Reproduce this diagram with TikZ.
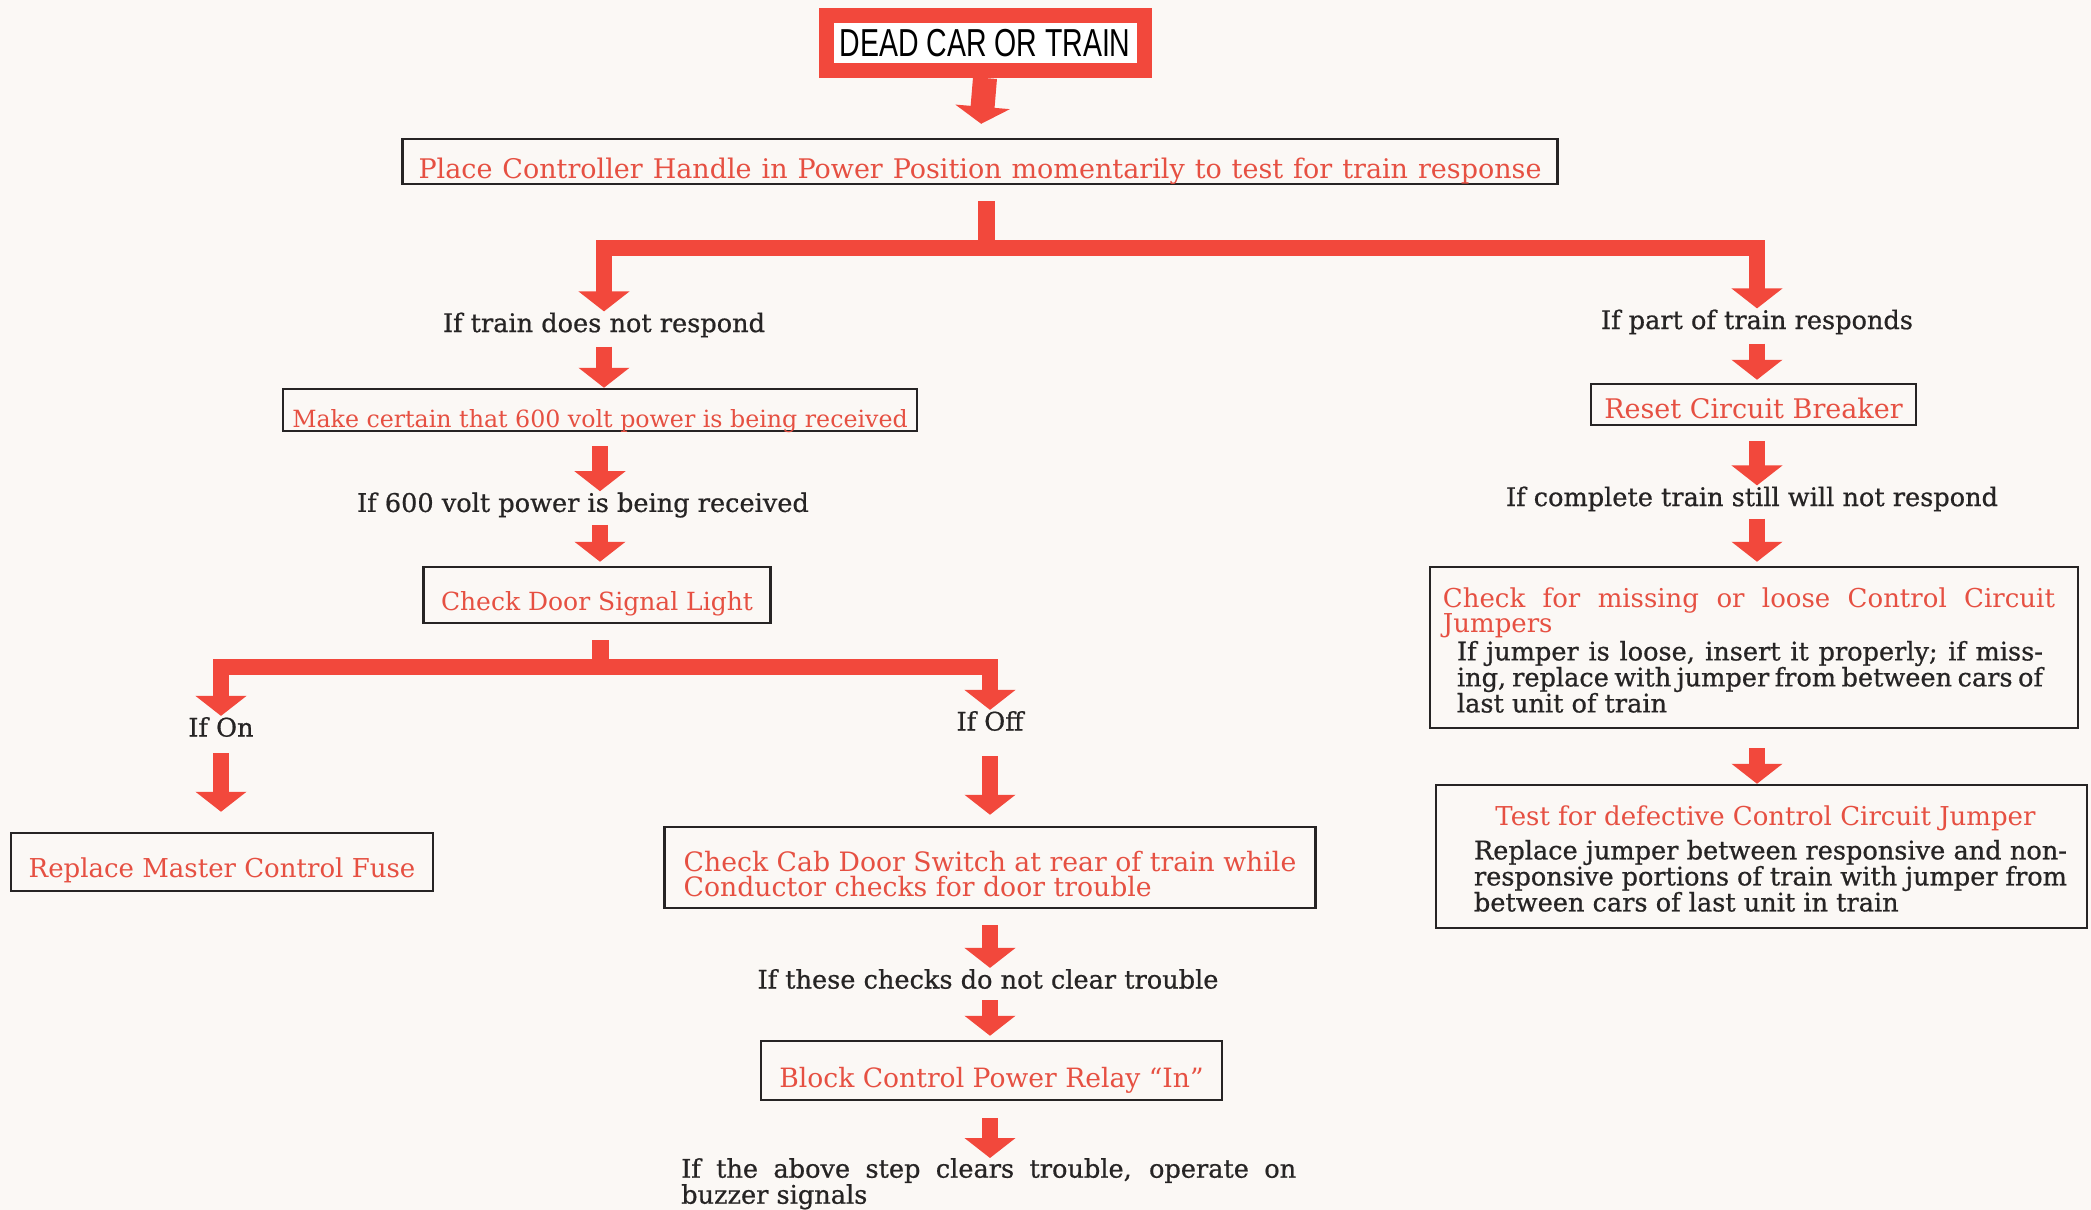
\documentclass[tikz,border=0pt]{standalone}
\usepackage{fontspec}
\setmainfont{DejaVu Serif}
\newfontfamily\notefont{DejaVu Serif}[FakeBold=0.7]
\newfontfamily\titlefont{Liberation Sans}[FakeStretch=0.73]
\usetikzlibrary{arrows.meta}
\definecolor{arrowred}{RGB}{242,72,60}
\definecolor{textred}{RGB}{230,80,66}
\definecolor{ink}{RGB}{38,36,36}
\definecolor{paper}{RGB}{251,248,245}
\newcommand\redsize{\fontsize{26}{25}\selectfont}
\newcommand\notesize{\notefont\fontsize{25.6}{26}\selectfont}

\begin{document}
\begin{tikzpicture}[x=1pt,y=-1pt]

		\tikzset{box/.style = {draw=ink, line width=2.5pt, inner sep=0pt, text=textred, font=\redsize}}
		\tikzset{low/.style = {text height=#1, text depth=0pt}}
		\tikzset{note/.style = {text=ink, font=\notesize, inner sep=1pt}}
		\tikzset{flow/.style = {arrowred, line width=16pt, -{Triangle[width=50pt,length=20pt]}}}
		\tikzset{bar/.style = {arrowred, line width=17pt}}
		\fill[paper] (0,0) rectangle (2091,1210);
		\useasboundingbox (0,0) rectangle (2091,1210);
		\node[draw=arrowred, line width=15pt, fill=white, minimum width=318pt, minimum height=55pt, inner sep=0pt, font=\titlefont\fontsize{39}{39}\selectfont] (dead) at (985,43) {DEAD CAR OR TRAIN};
		\node[box, low=33pt, minimum width=1155pt, minimum height=45pt, font=\fontsize{27}{25}\selectfont] (place) at (980,161.5) {\makebox[1123pt][s]{Place Controller Handle in Power Position momentarily to test for train response}};
		\node[note] (ifnot) at (604,325) {If train does not respond};
		\node[box, low=35pt, minimum width=634pt, minimum height=42pt, font=\fontsize{23.7}{25}\selectfont] (power) at (600,410) {Make certain that 600 volt power is being received};
		\node[note] (ifpower) at (583,505) {If 600 volt power is being received};
		\node[box, low=30pt, minimum width=347pt, minimum height=56pt, font=\fontsize{25}{25}\selectfont] (door) at (597,595) {Check Door Signal Light};
		\node[note] (ifon) at (221,727) {If On};
		\node[note] (ifoff) at (990,721) {If Off};
		\node[box, low=30pt, minimum width=422pt, minimum height=58pt] (fuse) at (222,862) {Replace Master Control Fuse};
		\node[box, minimum width=651pt, minimum height=81pt, align=left, font=\fontsize{26.7}{25}\selectfont] (cab) at (990,867.5) {\rule{0pt}{34pt}Check Cab Door Switch at rear of train while\\Conductor checks for door trouble};
		\node[note] (ifchecks) at (988,979) {If these checks do not clear trouble};
		\node[box, low=34pt, minimum width=461pt, minimum height=59pt, font=\fontsize{26.6}{25}\selectfont] (relay) at (991.5,1070.5) {Block Control Power Relay “In”};
		\node[note, anchor=north west, align=left, inner sep=0pt] (ifstep) at (681,1158) {\makebox[615pt][s]{If the above step clears trouble, operate on}\\buzzer signals};
		\node[note] (ifpart) at (1757,322) {If part of train responds};
		\node[box, low=27pt, minimum width=325pt, minimum height=41pt, font=\fontsize{27}{25}\selectfont] (reset) at (1753.5,404.5) {Reset Circuit Breaker};
		\node[note] (ifcomplete) at (1752,499) {If complete train still will not respond};
		\node[box, minimum width=648pt, minimum height=161pt] (jumper) at (1754,647.5) {};
		\node[note, text=textred, font=\redsize, anchor=north west, align=left, inner sep=0pt] (jumperhead) at ([xshift=14pt,yshift=-22pt]jumper.north west) {\makebox[612pt][s]{Check for missing or loose Control Circuit}\\Jumpers};
		\node[note, anchor=north west, align=left, inner sep=0pt] (jumperbody) at ([xshift=28pt,yshift=-75pt]jumper.north west) {\makebox[586pt][s]{If jumper is loose, insert it properly; if miss-}\\\makebox[586pt][s]{ing, replace with jumper from between cars of}\\last unit of train};
		\node[box, minimum width=651pt, minimum height=143pt] (test) at (1761.5,856.5) {};
		\node[note, text=textred, font=\redsize, anchor=north, inner sep=0pt] (testhead) at ([xshift=4pt,yshift=-22pt]test.north) {Test for defective Control Circuit Jumper};
		\node[note, anchor=north west, align=left, inner sep=0pt] (testbody) at ([xshift=39pt,yshift=-56pt]test.north west) {\makebox[593pt][s]{Replace jumper between responsive and non-}\\\makebox[593pt][s]{responsive portions of train with jumper from}\\between cars of last unit in train};
		%arrows
		\coordinate (split1) at (986,248);
		\coordinate (split2) at (600,667);
		\draw[arrowred, line width=24pt, -{Triangle[width=54pt,length=17pt]}, shorten >=14pt] (dead.south) -- (place.north);
		\draw[bar] (split1 |- place.south) ++(0,16) -- (split1);
		\draw[flow] (split1) -| (ifnot.north);
		\draw[flow] (split1) -| (ifpart.north);
		\draw[flow, shorten <=8pt] (ifnot.south) -- (ifnot.south |- power.north);
		\draw[flow, shorten <=14pt] (power.south) -- (power.south |- ifpower.north);
		\draw[flow, shorten <=6pt, shorten >=4pt] (ifpower.south -| power.south) -- (power.south |- door.north);
		\draw[bar] (split2 |- door.south) ++(0,16) -- (split2);
		\draw[flow] (split2) -| (ifon.north);
		\draw[flow] (split2) -| (ifoff.north);
		\draw[flow, shorten <=15pt, shorten >=20pt] (ifon.south) -- (ifon.south |- fuse.north);
		\draw[flow, shorten <=24pt, shorten >=11pt] (ifoff.south) -- (ifoff.south |- cab.north);
		\draw[flow, shorten <=16pt] (cab.south -| ifoff.south) -- (ifoff.south |- ifchecks.north);
		\draw[flow, shorten <=10pt, shorten >=4pt] (ifchecks.south -| ifoff.south) -- (ifoff.south |- relay.north);
		\draw[flow, shorten <=17pt] (relay.south -| ifoff.south) -- (ifoff.south |- ifstep.north);
		\draw[flow, shorten <=8pt, shorten >=3pt] (ifpart.south) -- (ifpart.south |- reset.north);
		\draw[flow, shorten <=15pt] (reset.south -| ifpart.south) -- (ifpart.south |- ifcomplete.north);
		\draw[flow, shorten <=6pt, shorten >=4pt] (ifcomplete.south -| ifpart.south) -- (ifpart.south |- jumper.north);
		\draw[flow, shorten <=19pt] (jumper.south -| ifpart.south) -- (ifpart.south |- test.north);
\end{tikzpicture}
\end{document}
